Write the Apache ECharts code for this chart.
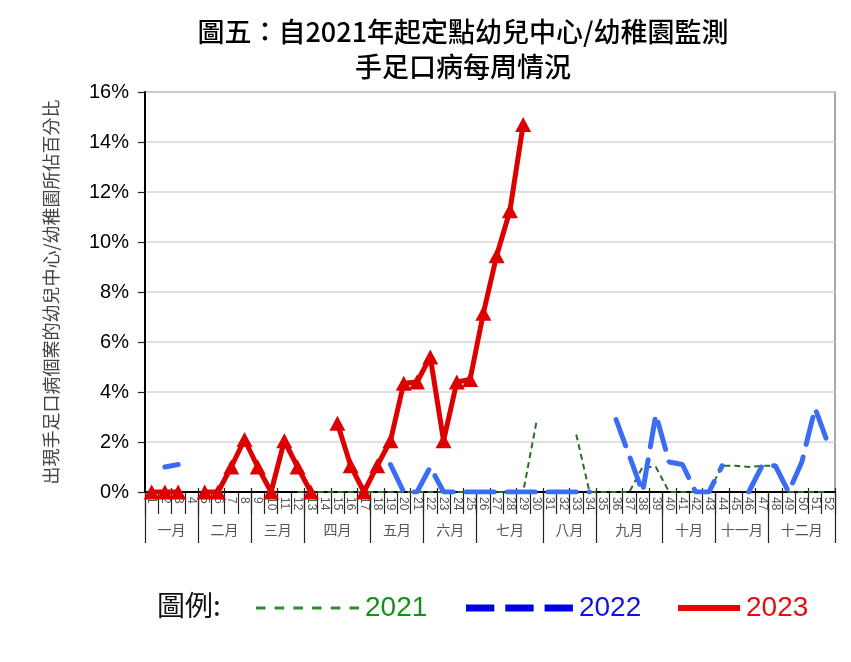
<!DOCTYPE html>
<html>
<head>
<meta charset="utf-8">
<script src="https://cdn.jsdelivr.net/npm/echarts@6/dist/echarts.min.js"></script>
<style>
html,body{margin:0;padding:0;background:#fff;}
#chart{width:851px;height:662px;}
</style>
</head>
<body>
<div id="chart"></div>
<script>
// ---- data ----
const weekLabels = ['1','2','3','4','5','6','7','8','9','10','11','12','13','14','15','16','17','18','19','20','21','22','23','24','25','26','27','28','29','30','31','32','33','34','35','36','37','38','39','40','41','42','43','44','45','46','47','48','49','50','51','52'];
const monthNames = ['一月','二月','三月','四月','五月','六月','七月','八月','九月','十月','十一月','十二月'];
const monthWeeks = [4,4,4,5,4,4,5,4,5,4,4,5];

const y2021 = [null,null,null,null,null,null,null,null,null,null,null,0,0,0,0,0,0,0,0,0,0,0,0,0,0,0,0,0,0,2.8,null,null,2.3,0,0,0,0,1.0,1.0,0,0,0,0,1.05,1.05,1.0,1.05,1.05,0,0,0,0];
const y2022 = [null,1.0,1.1,null,null,null,null,null,null,null,null,null,null,null,null,null,null,null,1.1,0,0,1.0,0,0,0,0,0,0,0,0,0,0,0,0,null,2.9,1.45,0,3.1,1.2,1.1,0,0,1.05,null,0,1.05,1.05,0,1.2,3.35,1.9];
const y2023 = [0,0,0,null,0,0,1.0,2.1,1.0,0,2.05,1.0,0,null,2.75,1.05,0,1.05,2.05,4.35,4.4,5.4,2.05,4.4,4.5,7.15,9.45,11.25,14.7,null,null,null,null,null,null,null,null,null,null,null,null,null,null,null,null,null,null,null,null,null,null,null];

const titleText = '圖五：自2021年起定點幼兒中心/幼稚園監測\n手足口病每周情況';
const yName = '出現手足口病個案的幼兒中心/幼稚園所佔百分比';
const legendTitle = '圖例:';
const seriesNames = ['2021','2022','2023'];

// ---- month axis (half-week slots) ----
const halfCats = [];
const boundarySet = new Set([0]);
const centerIdx = {};
let acc = 0;
monthWeeks.forEach((w, i) => {
  centerIdx[2 * acc + w] = monthNames[i];
  acc += w;
  boundarySet.add(acc * 2);
});
for (let i = 0; i <= 104; i++) halfCats.push(centerIdx[i] || '');

const chart = echarts.init(document.getElementById('chart'), null, {renderer: 'canvas'});
const CJK = '"Noto Sans CJK TC", "Noto Sans CJK SC", sans-serif';
const LAT = '"Liberation Sans", Arial, sans-serif';

function dashPath(n, dash, gap, h) {
  let p = 'path://';
  for (let i = 0; i < n; i++) {
    const x = i * (dash + gap);
    p += 'M' + x + ',0h' + dash + 'v' + h + 'h-' + dash + 'z';
  }
  return p;
}

const option = {
  animation: false,
  backgroundColor: '#fff',
  title: [
    {text: titleText, left: 458, top: 9, textAlign: 'center',
     textStyle: {fontFamily: CJK, fontSize: 27, fontWeight: 500, color: '#000', lineHeight: 35}},
    {text: legendTitle, left: 152, top: 586,
     textStyle: {fontFamily: CJK, fontSize: 28, fontWeight: 'normal', color: '#111'}}
  ],
  legend: [
    {left: 251, top: 589, selectedMode: false, itemWidth: 103, itemHeight: 3, itemGap: 0,
     textStyle: {fontFamily: LAT, fontSize: 28, padding: [0,0,0,1]},
     data: [{name: seriesNames[0], icon: dashPath(6, 9.5, 9.2, 3), itemStyle: {color: '#2e8b2e'}, textStyle: {color: '#129412'}}]},
    {left: 461, top: 589, selectedMode: false, itemWidth: 107, itemHeight: 7, itemGap: 0,
     textStyle: {fontFamily: LAT, fontSize: 28, padding: [0,0,0,1]},
     data: [{name: seriesNames[1], icon: dashPath(3, 28.3, 11, 7), itemStyle: {color: '#0000e6'}, textStyle: {color: '#1212e0'}}]},
    {left: 673, top: 589, selectedMode: false, itemWidth: 62, itemHeight: 6, itemGap: 0,
     textStyle: {fontFamily: LAT, fontSize: 28, padding: [0,0,0,1]},
     data: [{name: seriesNames[2], icon: 'rect', itemStyle: {color: '#ee0000'}, textStyle: {color: '#e01010'}}]}
  ],
  grid: {left: 145, right: 16, top: 92, bottom: 170, show: true, borderColor: '#8c8c8c', borderWidth: 1.5, containLabel: false},
  xAxis: [
    {type: 'category', data: weekLabels, boundaryGap: true, position: 'bottom',
     axisLine: {show: true, onZero: false, lineStyle: {color: '#000', width: 2}},
     axisTick: {show: true, length: 22, lineStyle: {color: '#222', width: 1.2}},
     axisLabel: {show: true, interval: 0, rotate: -90, margin: 5, fontFamily: LAT, fontSize: 12, color: '#555'},
     splitLine: {show: false}},
    {type: 'category', data: halfCats, boundaryGap: false, position: 'bottom',
     axisLine: {show: false},
     axisTick: {show: true, length: 51, interval: (i) => boundarySet.has(i), lineStyle: {color: '#222', width: 1.2}},
     axisLabel: {show: true, interval: (i) => !!centerIdx[i], margin: 31, fontFamily: CJK, fontSize: 14, color: '#555'},
     splitLine: {show: false}},
    {type: 'category', data: weekLabels, boundaryGap: true, position: 'bottom',
     axisLine: {show: false},
     axisTick: {show: true, inside: true, length: 4, lineStyle: {color: '#222', width: 1.2}},
     axisLabel: {show: false}, splitLine: {show: false}}
  ],
  yAxis: {
    type: 'value', min: 0, max: 16, interval: 2,
    name: yName, nameLocation: 'middle', nameRotate: 90, nameGap: 85,
    nameTextStyle: {fontFamily: CJK, fontSize: 18, color: '#444'},
    axisLine: {show: true, lineStyle: {color: '#000', width: 2}},
    axisTick: {show: true, length: 7, lineStyle: {color: '#222', width: 1.2}},
    axisLabel: {formatter: '{value}%', margin: 16, fontFamily: LAT, fontSize: 20, color: '#000'},
    splitLine: {show: true, lineStyle: {color: '#d4d4d4', width: 1.5}}
  },
  series: [
    {name: seriesNames[0], type: 'line', data: y2021, xAxisIndex: 0, showSymbol: false, symbol: 'none', z: 3,
     itemStyle: {color: '#2a6e2a'}, lineStyle: {color: '#2a6e2a', width: 2, type: [6, 4]}},
    {name: seriesNames[1], type: 'line', data: y2022, xAxisIndex: 0, showSymbol: false, symbol: 'none', z: 4,
     itemStyle: {color: '#3a6cf4'}, lineStyle: {color: '#3a6cf4', width: 5, type: [28, 13], cap: 'round'}},
    {name: seriesNames[2], type: 'line', data: y2023, xAxisIndex: 0, symbol: 'triangle', symbolSize: [16, 15], showSymbol: true, z: 5,
     itemStyle: {color: '#dd0000'}, lineStyle: {color: '#dd0000', width: 5}}
  ]
};
chart.setOption(option);
</script>
</body>
</html>
